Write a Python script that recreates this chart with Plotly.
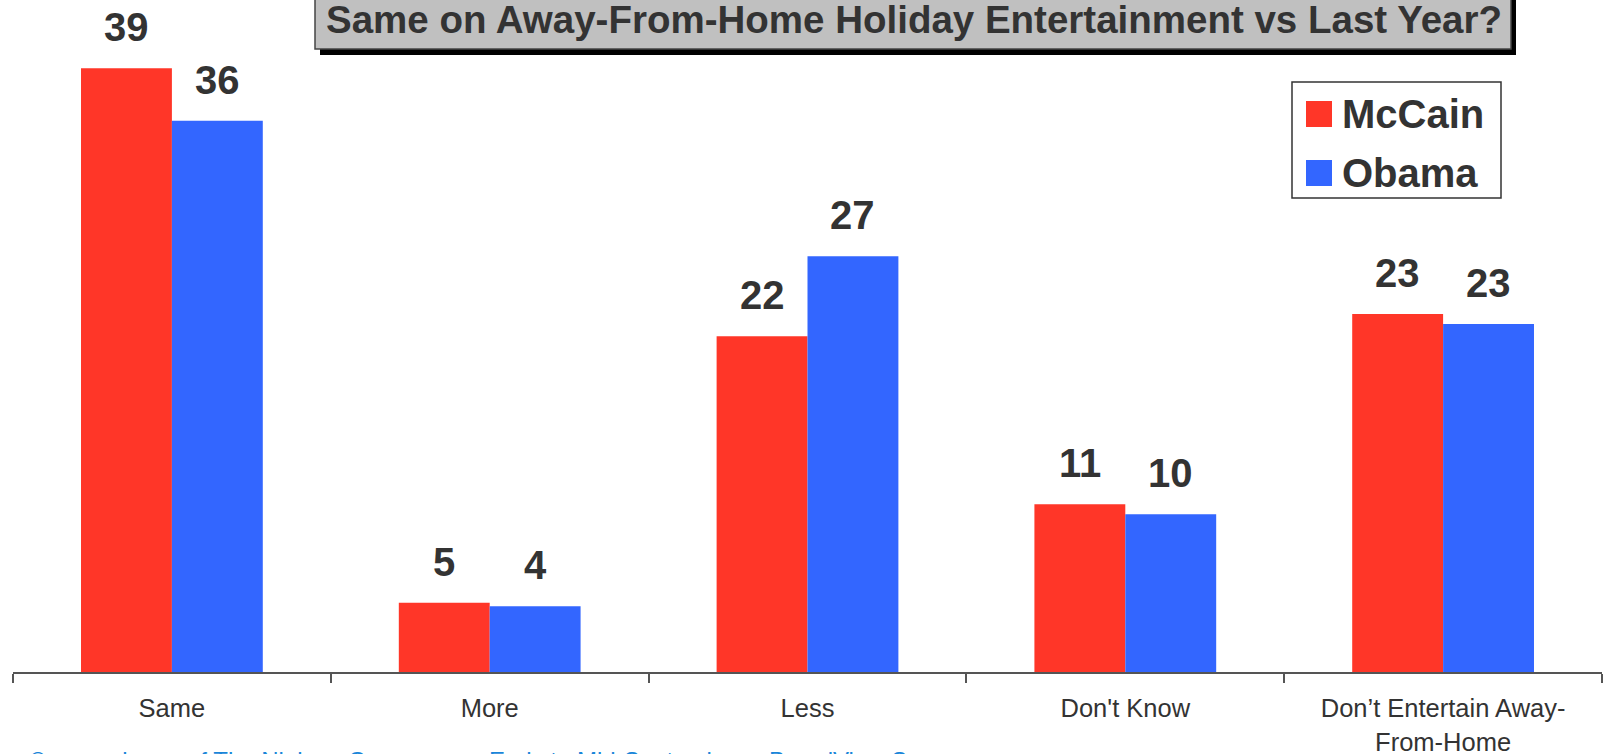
import plotly.graph_objects as go

# ---------------- data ----------------
categories = ["Same", "More", "Less", "Don't Know", "Don\u2019t Entertain Away-<br>From-Home"]
series_names = ["McCain", "Obama"]
mccain = [39.2, 4.5, 21.8, 10.9, 23.25]
obama = [35.8, 4.27, 27.0, 10.24, 22.6]
mccain_labels = ["39", "5", "22", "11", "23"]
obama_labels = ["36", "4", "27", "10", "23"]
title_text = "Same on Away-From-Home Holiday Entertainment vs Last Year?"
footer_parts = ["\u00a9", "a service", "of The Nielsen Company", "Early to Mid-September",
                "BrandView Survey"]

# ---------------- style ----------------
colors = ["#FF3628", "#3366FF"]
FONT = "Liberation Sans, Arial, sans-serif"
TXT = "#333333"
W, H = 1603, 754
L, R, T, B = 13, 1, 40, 82
PW, PH = W - L - R, H - T - B
PX_PER_UNIT = 15.4
BARGAP = 0.428
footer_x = [27, 55, 185, 487, 767]


def px2x(px):
    return (px - L) / PW


def py2y(py):
    return (H - B - py) / PH


fig = go.Figure()
for name, vals, col in zip(series_names, [mccain, obama], colors):
    fig.add_trace(go.Bar(x=categories, y=vals, name=name, marker_color=col,
                         marker_line_width=0, hoverinfo="skip"))

annotations = []
half = (1 - BARGAP) / 4
for i, (v1, v2, t1, t2) in enumerate(zip(mccain, obama, mccain_labels, obama_labels)):
    for xv, yv, tx in [(i - half, v1, t1), (i + half, v2, t2)]:
        annotations.append(dict(x=xv, y=yv, xref="x", yref="y", text="<b>%s</b>" % tx,
                                showarrow=False, yanchor="bottom", yshift=17,
                                font=dict(family=FONT, size=40, color=TXT)))

shapes = []
# title box with shadow
shapes.append(dict(type="rect", xref="paper", yref="paper",
                   x0=px2x(320), x1=px2x(1516), y0=py2y(55), y1=py2y(-10),
                   fillcolor="#000000", line_width=0, layer="above"))
shapes.append(dict(type="rect", xref="paper", yref="paper",
                   x0=px2x(315), x1=px2x(1511), y0=py2y(49), y1=py2y(-10),
                   fillcolor="#C0C0C0", line=dict(color="#444444", width=1.5), layer="above"))
annotations.append(dict(x=px2x(914), y=py2y(19), xref="paper", yref="paper",
                        text="<b>%s</b>" % title_text, showarrow=False,
                        xanchor="center", yanchor="middle",
                        font=dict(family=FONT, size=38.5, color=TXT)))

# legend box
shapes.append(dict(type="rect", xref="paper", yref="paper",
                   x0=px2x(1292), x1=px2x(1501), y0=py2y(198), y1=py2y(82),
                   fillcolor="#FFFFFF", line=dict(color="#333333", width=1.5)))
for k, (name, col) in enumerate(zip(series_names, colors)):
    cy = 114 + 59 * k
    shapes.append(dict(type="rect", xref="paper", yref="paper",
                       x0=px2x(1306), x1=px2x(1332), y0=py2y(cy + 13), y1=py2y(cy - 13),
                       fillcolor=col, line_width=0))
    annotations.append(dict(x=px2x(1340), y=py2y(cy), xref="paper", yref="paper",
                            text="<b>%s</b>" % name, showarrow=False,
                            xanchor="left", yanchor="middle",
                            font=dict(family=FONT, size=40, color=TXT)))

# footer (cut off at the bottom edge as in the original)
for fx, ftxt in zip(footer_x, footer_parts):
    annotations.append(dict(x=px2x(fx), y=py2y(745), xref="paper", yref="paper",
                            text=ftxt, showarrow=False, xanchor="left", yanchor="top",
                            font=dict(family=FONT, size=24, color="#1A86D9")))

fig.update_layout(
    width=W, height=H, autosize=False,
    margin=dict(l=L, r=R, t=T, b=B, pad=0),
    paper_bgcolor="white", plot_bgcolor="white",
    barmode="group", bargap=BARGAP, bargroupgap=0,
    showlegend=False,
    font=dict(family=FONT, color=TXT),
    annotations=annotations, shapes=shapes,
    xaxis=dict(type="category", showline=True, linecolor="#555555", linewidth=1.5,
               ticks="outside", tickson="boundaries", ticklen=9, tickwidth=1.5,
               tickcolor="#555555", showgrid=False, zeroline=False, automargin=False,
               tickfont=dict(family=FONT, size=25.5, color=TXT), ticklabelstandoff=13),
    yaxis=dict(visible=False, range=[0, PH / PX_PER_UNIT], showgrid=False, zeroline=False,
               automargin=False),
)

fig.write_html("out.html")
